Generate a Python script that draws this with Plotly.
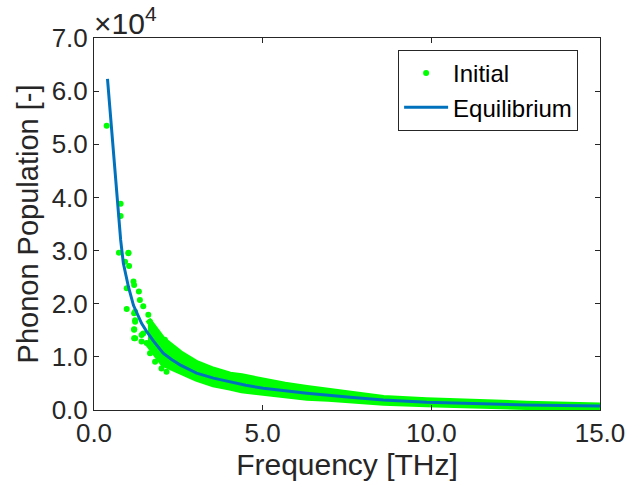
import plotly.graph_objects as go

# Equilibrium curve (frequency THz, phonon population)
f_eq = [0.40, 0.79, 0.87, 1.02, 1.17, 1.41, 1.56, 1.76, 2.05, 2.30, 2.55, 2.80, 3.04, 3.54,
        4.03, 4.50, 5.02, 5.60, 6.31, 7.59, 8.58, 9.86, 11.15, 12.8, 15.0]
n_eq = [62300, 32000, 27600, 23200, 19700, 16300, 14800, 13000, 10700, 9500, 8500, 7650, 6950, 6000,
        5300, 4650, 4080, 3600, 3140, 2390, 1880, 1450, 1200, 950, 750]

# Initial distribution: isolated samples at low frequency
f_init = [0.376, 0.79, 0.79, 0.74, 1.02, 1.02, 0.92, 1.04, 1.17, 0.97, 1.19, 1.33, 1.36,
          0.97, 1.22, 1.46, 1.61, 1.22, 1.66, 1.19, 1.76, 1.41, 1.22, 1.56, 1.86, 2.10,
          1.19, 1.22, 1.19, 1.19, 1.41, 1.46, 1.66, 1.81, 2.00, 2.15]
n_init = [53500, 38800, 36500, 29600, 29600, 29500, 27900, 27100, 24200, 22900, 23500,
          22300, 20700, 19000, 18500, 19500, 17900, 16900, 16600, 15200, 15400, 14100,
          13500, 12600, 13800, 13200, 18200, 16600, 15100, 13500, 12900, 14400, 10700,
          9100, 7800, 7200]

# Initial distribution: dense band (upper / lower envelope of samples)
band_f = [1.60, 2.05, 2.55, 3.04, 3.54, 3.74, 4.03, 4.38, 5.02, 5.66, 6.31, 6.95,
          7.59, 8.58, 9.86, 11.15, 12.83, 14.95]
band_hi = [17000, 13230, 10730, 8850, 7580, 7100, 6640, 6340, 5510, 4760, 4140, 3630,
           3070, 2260, 1830, 1510, 1190, 850]
band_lo = [12500, 8710, 7150, 5890, 4840, 4460, 4200, 3710, 3200, 2770, 2310, 2100,
           1940, 1370, 1070, 1000, 560, 420]

x_ticks = [0, 5, 10, 15]
x_ticktext = ["0.0", "5.0", "10.0", "15.0"]
y_ticks = [0, 10000, 20000, 30000, 40000, 50000, 60000, 70000]
y_ticktext = ["0.0", "1.0", "2.0", "3.0", "4.0", "5.0", "6.0", "7.0"]

GREEN = "#00FF00"
BLUE = "#0072BD"
AX = "#262626"
FONT = "Liberation Sans, Arial, sans-serif"

fig = go.Figure()
fig.add_trace(go.Scatter(
    x=band_f + band_f[::-1], y=band_hi + band_lo[::-1],
    mode="lines", fill="toself", fillcolor=GREEN,
    line=dict(color=GREEN, width=6), showlegend=False, hoverinfo="skip"))
fig.add_trace(go.Scatter(
    x=f_init, y=n_init, mode="markers", name="Initial",
    marker=dict(color=GREEN, size=6)))
fig.add_trace(go.Scatter(
    x=f_eq, y=n_eq, mode="lines", name="Equilibrium",
    line=dict(color=BLUE, width=3)))

axis_common = dict(showgrid=False, zeroline=False, showline=True, linecolor=AX,
                   linewidth=1, mirror="ticks", ticks="inside", ticklen=5,
                   tickcolor=AX, automargin=False,
                   tickfont=dict(size=26, color=AX, family=FONT))

fig.update_layout(
    width=626, height=490,
    margin=dict(l=94, r=26, t=38, b=80),
    paper_bgcolor="white", plot_bgcolor="white",
    font=dict(family=FONT, color=AX),
    xaxis=dict(range=[0, 15], tickvals=x_ticks, ticktext=x_ticktext,
               title=dict(text="Frequency [THz]", font=dict(size=30, color=AX), standoff=2),
               **axis_common),
    yaxis=dict(range=[0, 70000], tickvals=y_ticks, ticktext=y_ticktext,
               title=dict(text="Phonon Population [-]", font=dict(size=29, color=AX), standoff=4),
               **axis_common),
    legend=dict(x=0.601, y=0.968, xanchor="left", yanchor="top",
                bgcolor="white", bordercolor=AX, borderwidth=1,
                font=dict(size=24, color="black", family=FONT),
                itemwidth=44, tracegroupgap=0),
    annotations=[dict(text="×10<sup>4</sup>", xref="paper", yref="paper",
                      x=0, y=1, xanchor="left", yanchor="bottom", showarrow=False,
                      yshift=-4, xshift=-2,
                      font=dict(size=30, color=AX, family=FONT))],
)

fig.write_html("out.html")
